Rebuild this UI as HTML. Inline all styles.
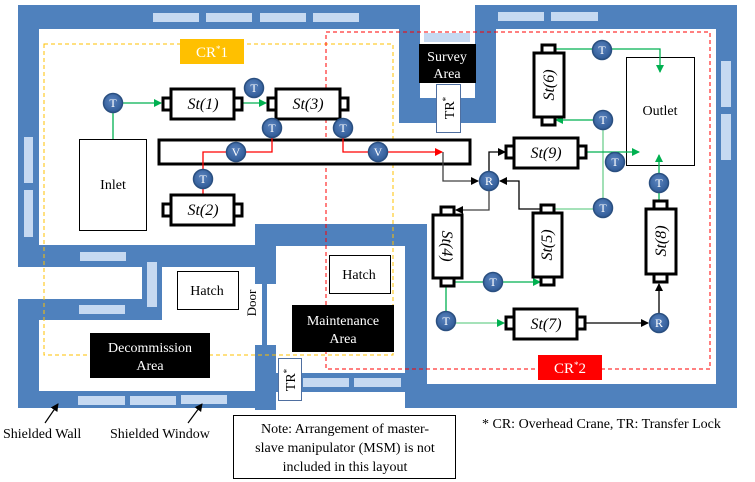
<!DOCTYPE html>
<html><head><meta charset="utf-8"><style>
html,body{margin:0;padding:0;background:#fff;}
svg{display:block;font-family:"Liberation Serif",serif;}
</style></head><body>
<svg width="755" height="482" viewBox="0 0 755 482" xmlns="http://www.w3.org/2000/svg">
<defs>
<marker id="ag" markerWidth="8" markerHeight="8" refX="7" refY="4" orient="auto" markerUnits="userSpaceOnUse"><path d="M0,0 L8,4 L0,8z" fill="#00b050"/></marker>
<marker id="ar" markerWidth="8" markerHeight="8" refX="7" refY="4" orient="auto" markerUnits="userSpaceOnUse"><path d="M0,0 L8,4 L0,8z" fill="#ff0000"/></marker>
<marker id="ak" markerWidth="8" markerHeight="8" refX="7" refY="4" orient="auto" markerUnits="userSpaceOnUse"><path d="M0,0 L8,4 L0,8z" fill="#000"/></marker>
<radialGradient id="cg" cx="0.45" cy="0.4" r="0.6"><stop offset="0" stop-color="#5b84bf"/><stop offset="1" stop-color="#2f5a96"/></radialGradient>
</defs>
<g fill="#4f81bd">
<rect x="18" y="5" width="719" height="403"/>
</g>
<g fill="#fff">
<rect x="420" y="5" width="55" height="25"/>
<rect x="39" y="29" width="360" height="195"/>
<rect x="496" y="29" width="220" height="195"/>
<rect x="399" y="123" width="97" height="101"/>
<rect x="39" y="224" width="216" height="21"/>
<rect x="427" y="224" width="289" height="160"/>
<rect x="420" y="30" width="55" height="68"/>
<rect x="0" y="267" width="142" height="32"/>
<rect x="162" y="267" width="93" height="53"/>
<rect x="39" y="320" width="216" height="71"/>
<rect x="276" y="246" width="129" height="127"/>
<rect x="255" y="284" width="7" height="61"/>
<rect x="267" y="284" width="9" height="61"/>
<rect x="276" y="392" width="129" height="90"/>
<rect x="0" y="410" width="755" height="72"/>
<rect x="405" y="408" width="350" height="74"/>
<rect x="0" y="0" width="18" height="482"/>
<rect x="737" y="0" width="18" height="482"/>
<rect x="300" y="392" width="105" height="20"/>
</g>
<g fill="#4f81bd"><rect x="255" y="345" width="21" height="65"/><rect x="276" y="373" width="129" height="19"/></g>
<g fill="#fff"><rect x="276" y="392" width="24" height="20"/></g>
<g fill="#c6d9f1">
<rect x="153" y="13" width="46" height="9"/><rect x="206" y="13" width="46" height="9"/><rect x="260" y="13" width="46" height="9"/><rect x="313" y="13" width="46" height="9"/>
<rect x="498" y="12" width="46" height="9"/><rect x="551" y="12" width="47" height="9"/>
<rect x="424" y="33" width="46" height="9"/>
<rect x="24" y="137" width="9" height="46"/><rect x="24" y="190" width="9" height="47"/>
<rect x="721" y="61" width="10" height="46"/><rect x="721" y="114" width="10" height="46"/>
<rect x="80" y="252" width="46" height="9"/><rect x="147" y="262" width="10" height="45"/><rect x="79" y="305" width="46" height="9"/>
<rect x="78" y="396" width="47" height="9"/><rect x="130" y="396" width="46" height="9"/><rect x="181" y="395" width="46" height="9"/>
<rect x="303" y="378" width="46" height="9"/><rect x="354" y="378" width="47" height="9"/>
</g>
<rect x="44" y="44" width="349" height="311" fill="none" stroke="#ffc000" stroke-width="1" stroke-dasharray="4,3"/>
<rect x="326" y="32" width="384" height="337" fill="none" stroke="#ff0000" stroke-width="1" stroke-dasharray="4,3"/>
<rect x="180" y="39" width="64" height="25" fill="#ffc000"/>
<text x="212" y="57" font-size="15" fill="#fff" text-anchor="middle">CR<tspan font-size="9" dy="-5">*</tspan><tspan dy="5">1</tspan></text>
<rect x="538" y="355" width="64" height="25" fill="#ff0000"/>
<text x="570" y="373" font-size="15" fill="#fff" text-anchor="middle">CR<tspan font-size="9" dy="-5">*</tspan><tspan dy="5">2</tspan></text>
<rect x="419" y="44" width="57" height="39" fill="#000"/>
<text x="447" y="61" font-size="14" fill="#fff" text-anchor="middle">Survey</text>
<text x="447" y="78" font-size="14" fill="#fff" text-anchor="middle">Area</text>
<rect x="436.5" y="84.5" width="24" height="48" fill="#fff" stroke="#4f6fa0"/>
<text transform="translate(454,108) rotate(-90)" font-size="14" text-anchor="middle">TR<tspan font-size="9" dy="-5">*</tspan></text>
<rect x="278.5" y="358.5" width="23" height="42" fill="#fff" stroke="#4f6fa0"/>
<text transform="translate(295,380) rotate(-90)" font-size="14" text-anchor="middle">TR<tspan font-size="9" dy="-5">*</tspan></text>
<rect x="79.5" y="139.5" width="67" height="91" fill="#fff" stroke="#000"/>
<text x="113" y="189" font-size="14" text-anchor="middle">Inlet</text>
<rect x="626.5" y="57.5" width="68" height="108" fill="#fff" stroke="#000"/>
<text x="660" y="115" font-size="14" text-anchor="middle">Outlet</text>
<rect x="177.5" y="271.5" width="61" height="38" fill="#fff" stroke="#000"/>
<text x="207" y="295" font-size="14" text-anchor="middle">Hatch</text>
<rect x="329.5" y="255.5" width="61" height="38" fill="#fff" stroke="#000"/>
<text x="359" y="279" font-size="14" text-anchor="middle">Hatch</text>
<rect x="292" y="305" width="102" height="47" fill="#000"/>
<text x="343" y="325" font-size="14" fill="#fff" text-anchor="middle">Maintenance</text>
<text x="343" y="343" font-size="14" fill="#fff" text-anchor="middle">Area</text>
<rect x="90" y="333" width="120" height="45" fill="#000"/>
<text x="150" y="352" font-size="14" fill="#fff" text-anchor="middle">Decommission</text>
<text x="150" y="370" font-size="14" fill="#fff" text-anchor="middle">Area</text>
<text transform="translate(256,303) rotate(-90)" font-size="13" text-anchor="middle">Door</text>
<rect x="159" y="140" width="311" height="24" fill="#fff" stroke="#000" stroke-width="3"/>
<g fill="none" stroke-width="1.3">
<path d="M113,103 V139" stroke="#00b050"/>
<path d="M113,103 H161" stroke="#00b050" marker-end="url(#ag)"/>
<path d="M243,103 H266" stroke="#00b050" marker-end="url(#ag)"/>
<path d="M272,128 V120" stroke="#ff0000" marker-end="url(#ar)"/>
<path d="M272,128 V152 H203 V195" stroke="#ff0000"/>
<path d="M343,119 V152 H378" stroke="#ff0000"/>
<path d="M378,152 H442" stroke="#ff0000" marker-end="url(#ar)"/>
<path d="M443,152 V181 H478" stroke="#404040" marker-end="url(#ak)"/>
<path d="M489,181 V152 H505" stroke="#000" marker-end="url(#ak)"/>
<path d="M489,181 V210 H456" stroke="#404040" marker-end="url(#ak)"/>
<path d="M541,209 H519 V181 H500" stroke="#000" marker-end="url(#ak)"/>
<path d="M554,209 H603 V120" stroke="#6fd08f"/>
<path d="M603,120 H556" stroke="#00b050" marker-end="url(#ag)"/>
<path d="M555,49 H660 V72" stroke="#00b050" marker-end="url(#ag)"/>
<path d="M587,152 H639" stroke="#00b050" marker-end="url(#ag)"/>
<path d="M659,201 V155" stroke="#00b050" marker-end="url(#ag)"/>
<path d="M447,282 H540" stroke="#00b050" marker-end="url(#ag)"/>
<path d="M446,286 V321" stroke="#00b050"/>
<path d="M446,323 H504" stroke="#6fd08f" marker-end="url(#ag)"/>
<path d="M586,323 H648" stroke="#000" marker-end="url(#ak)"/>
<path d="M659,323 V284" stroke="#000" marker-end="url(#ak)"/>
</g>
<g fill="#fff" stroke="#000" stroke-width="3">
<rect x="163" y="98" width="8" height="12"/><rect x="234" y="98" width="8" height="12"/><rect x="171" y="89" width="63" height="30"/>
<rect x="268" y="98" width="8" height="12"/><rect x="340" y="98" width="8" height="12"/><rect x="276" y="89" width="64" height="30"/>
<rect x="163" y="204" width="8" height="12"/><rect x="234" y="204" width="8" height="12"/><rect x="171" y="195" width="63" height="30"/>
<rect x="506" y="146" width="8" height="12"/><rect x="578" y="146" width="8" height="12"/><rect x="514" y="138" width="64" height="30"/>
<rect x="506" y="317" width="8" height="12"/><rect x="577" y="317" width="8" height="12"/><rect x="514" y="309" width="63" height="30"/>
<rect x="542" y="45" width="13" height="8"/><rect x="542" y="117" width="13" height="8"/><rect x="534" y="53" width="30" height="64"/>
<rect x="441" y="207" width="13" height="8"/><rect x="441" y="278" width="13" height="8"/><rect x="433" y="215" width="29" height="63"/>
<rect x="541" y="205" width="13" height="8"/><rect x="541" y="277" width="13" height="8"/><rect x="533" y="213" width="29" height="64"/>
<rect x="654" y="201" width="13" height="8"/><rect x="654" y="274" width="13" height="8"/><rect x="646" y="209" width="30" height="65"/>
</g>
<g font-size="16" font-style="italic" text-anchor="middle">
<text x="203" y="109">St(1)</text>
<text x="308" y="109">St(3)</text>
<text x="203" y="215">St(2)</text>
<text x="546" y="158">St(9)</text>
<text x="546" y="329">St(7)</text>
<text transform="translate(549,85) rotate(-90)" dy="5">St(6)</text>
<text transform="translate(447,246) rotate(90)" dy="5">St(4)</text>
<text transform="translate(547,245) rotate(-90)" dy="5">St(5)</text>
<text transform="translate(661,241) rotate(-90)" dy="5">St(8)</text>
</g>
<g stroke="#2a4f80" stroke-width="1.5" fill="url(#cg)">
<circle cx="113" cy="103" r="9.5"/><circle cx="254" cy="88" r="9.5"/><circle cx="272" cy="128" r="9.5"/><circle cx="343" cy="128" r="9.5"/><circle cx="203" cy="179" r="9.5"/>
<circle cx="236" cy="152" r="9.5"/><circle cx="378" cy="152" r="9.5"/>
<circle cx="602" cy="50" r="9.5"/><circle cx="603" cy="120" r="9.5"/><circle cx="615" cy="162" r="9.5"/><circle cx="603" cy="208" r="9.5"/><circle cx="659" cy="183" r="9.5"/>
<circle cx="493" cy="282" r="9.5"/><circle cx="446" cy="321" r="9.5"/>
<circle cx="489" cy="181" r="9.5"/><circle cx="659" cy="323" r="9.5"/>
</g>
<g font-size="12" fill="#fff" text-anchor="middle">
<text x="113" y="107">T</text><text x="254" y="92">T</text><text x="272" y="132">T</text><text x="343" y="132">T</text><text x="203" y="183">T</text>
<text x="236" y="156">V</text><text x="378" y="156">V</text>
<text x="602" y="54">T</text><text x="603" y="124">T</text><text x="615" y="166">T</text><text x="603" y="212">T</text><text x="659" y="187">T</text>
<text x="493" y="286">T</text><text x="446" y="325">T</text>
<text x="489" y="185">R</text><text x="659" y="327">R</text>
</g>
<g stroke="#000" stroke-width="1.2" fill="none">
<path d="M45,423 L58,404" marker-end="url(#ak)"/>
<path d="M188,423 L202,404" marker-end="url(#ak)"/>
</g>
<text x="3" y="438" font-size="14">Shielded  Wall</text>
<text x="110" y="438" font-size="14">Shielded  Window</text>
<rect x="233.5" y="415.5" width="222" height="63" fill="#fff" stroke="#000"/>
<g font-size="14" text-anchor="middle">
<text x="345" y="433">Note: Arrangement of master-</text>
<text x="345" y="452">slave manipulator  (MSM) is not</text>
<text x="345" y="471">included  in this layout</text>
</g>
<text x="482" y="428" font-size="14">* CR: Overhead Crane, TR: Transfer Lock</text>
</svg>
</body></html>
